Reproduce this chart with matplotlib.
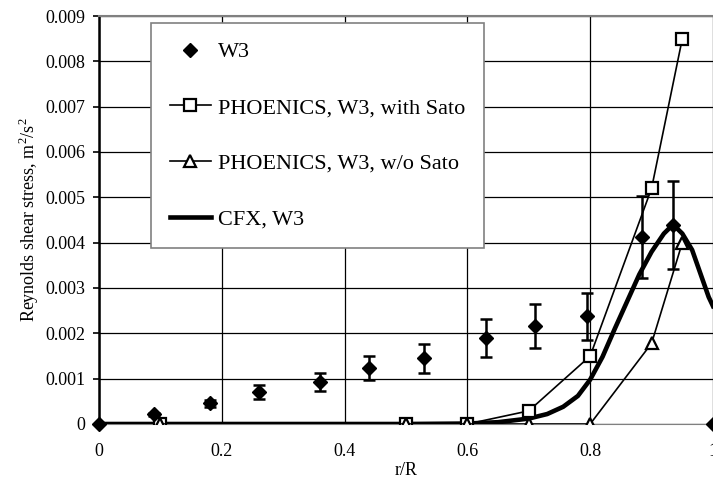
import matplotlib
matplotlib.use("Agg")
import matplotlib.pyplot as plt
from matplotlib.lines import Line2D

plt.rcParams['font.family'] = ['Liberation Serif', 'DejaVu Serif']
plt.rcParams['mathtext.fontset'] = 'custom'
plt.rcParams['mathtext.rm'] = 'Liberation Serif'

# W3 experimental data
w3_x = [0.0, 0.09, 0.18, 0.26, 0.36, 0.44, 0.53, 0.63, 0.71, 0.795, 0.885, 0.935, 1.0]
w3_y = [0.0, 0.00021, 0.00046, 0.00071, 0.00092, 0.00123, 0.00145, 0.0019, 0.00216,
        0.00238, 0.00413, 0.00439, 0.0]
w3_err = [0.0, 0.00004, 0.00008, 0.00016, 0.0002, 0.00026, 0.00032, 0.00042, 0.00048,
          0.00052, 0.0009, 0.00096, 0.0]

# PHOENICS with Sato
sato_x = [0.1, 0.5, 0.6, 0.7, 0.8, 0.9, 0.95]
sato_y = [0.0, 0.0, 0.0, 0.00029, 0.0015, 0.0052, 0.0085]

# PHOENICS without Sato
nosato_x = [0.1, 0.5, 0.6, 0.7, 0.8, 0.9, 0.95]
nosato_y = [0.0, 0.0, 0.0, 0.0, 0.0, 0.00178, 0.004]

# CFX
cfx_x = [0.0, 0.1, 0.2, 0.3, 0.4, 0.5, 0.6, 0.65, 0.7, 0.73, 0.756, 0.78, 0.8, 0.82,
         0.84, 0.86, 0.88, 0.9, 0.92, 0.935, 0.95, 0.966, 0.98, 0.993, 1.0]
cfx_y = [0.0, 0.0, 0.0, 0.0, 0.0, 0.0, 0.00001, 0.00004, 0.00012, 0.00022, 0.00038,
         0.00062, 0.00098, 0.00148, 0.0021, 0.0027, 0.0033, 0.0038, 0.0042, 0.0044, 0.0042,
         0.00384, 0.0033, 0.0028, 0.0026]

x_ticks = [0, 0.2, 0.4, 0.6, 0.8, 1]
x_labels = ['0', '0.2', '0.4', '0.6', '0.8', '1']
y_ticks = [0, 0.001, 0.002, 0.003, 0.004, 0.005, 0.006, 0.007, 0.008, 0.009]
y_labels = ['0', '0.001', '0.002', '0.003', '0.004', '0.005', '0.006', '0.007', '0.008', '0.009']

fig = plt.figure(figsize=(7.13, 4.92), dpi=100)
ax = fig.add_axes([99/713, 68/492, 614/713, 408/492])

ax.plot(cfx_x, cfx_y, color='black', lw=3.3, zorder=3, solid_joinstyle='round')
ax.plot(sato_x, sato_y, color='black', lw=1.2, marker='s', ms=8.5, mfc='white',
        mec='black', mew=1.6, zorder=4)
ax.plot(nosato_x, nosato_y, color='black', lw=1.2, marker='^', ms=9, mfc='white',
        mec='black', mew=1.6, zorder=4)
ax.errorbar(w3_x, w3_y, yerr=w3_err, fmt='D', color='black', ms=7, ecolor='black',
            elinewidth=1.8, capsize=4.5, capthick=1.8, zorder=5, clip_on=False)

ax.set_xlim(0, 1)
ax.set_ylim(0, 0.009)
ax.set_xticks(x_ticks)
ax.set_xticklabels(x_labels)
ax.set_yticks(y_ticks)
ax.set_yticklabels(y_labels)
ax.tick_params(axis='x', length=0, pad=14, labelsize=13)
ax.tick_params(axis='y', length=4, width=1.2, pad=6, labelsize=13, direction='out')
ax.grid(True, color='black', lw=0.9)
ax.set_axisbelow(True)
ax.spines['left'].set_linewidth(1.8)
ax.spines['top'].set_color('#808080')
ax.spines['top'].set_linewidth(1.5)
ax.spines['right'].set_visible(False)
ax.spines['bottom'].set_color('#808080')

ax.set_xlabel('r/R', fontsize=13, labelpad=1)
ax.set_ylabel('Reynolds shear stress, m$^2$/s$^2$', fontsize=13, labelpad=3)

handles = [
    Line2D([], [], ls='none', marker='D', color='black', ms=7),
    Line2D([], [], color='black', lw=1.2, marker='s', ms=8, mfc='white', mec='black', mew=1.6),
    Line2D([], [], color='black', lw=1.2, marker='^', ms=9, mfc='white', mec='black', mew=1.6),
    Line2D([], [], color='black', lw=3.3),
]
labels = ['W3', 'PHOENICS, W3, with Sato', 'PHOENICS, W3, w/o Sato', 'CFX, W3']
leg = ax.legend(handles, labels, loc='upper left', bbox_to_anchor=(0.0847, 0.983),
                borderaxespad=0, fontsize=16, frameon=True, fancybox=False,
                edgecolor='#808080', framealpha=1, labelspacing=1.58,
                handlelength=1.85, handletextpad=0.3, borderpad=0.85)
leg.get_frame().set_linewidth(1.2)
leg.set_zorder(10)

fig.savefig('out.png', dpi=100)
